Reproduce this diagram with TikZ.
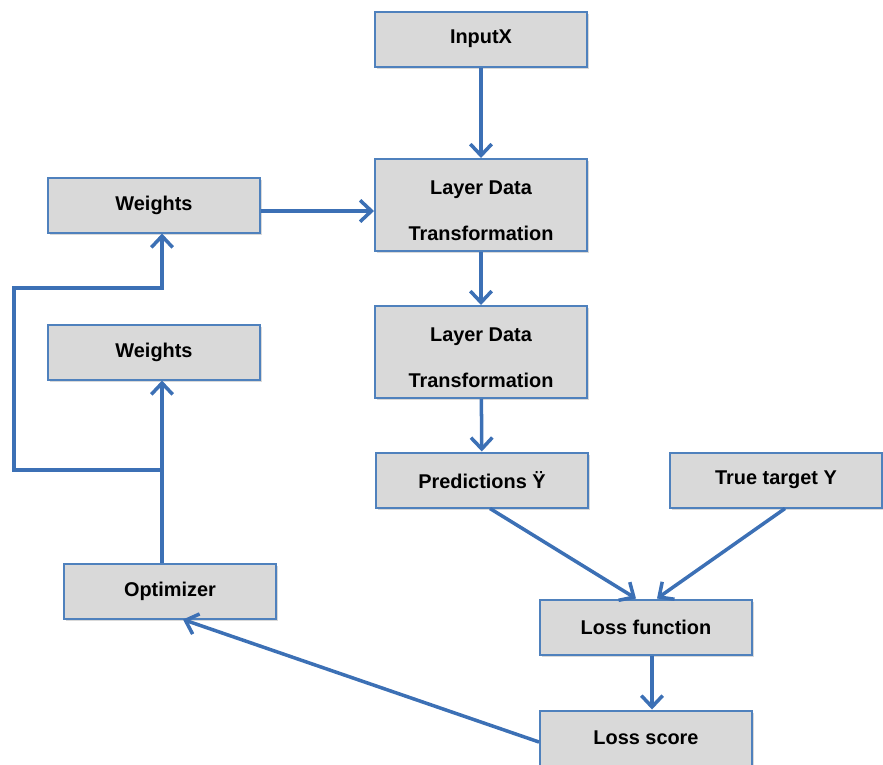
\documentclass[tikz,border=0pt]{standalone}
\usepackage{fontspec}
\setmainfont{Liberation Sans}
\usepackage{tikz}
\usetikzlibrary{arrows.meta,shadows}

\definecolor{boxfill}{HTML}{D9D9D9}
\definecolor{boxline}{HTML}{4F81BD}
\definecolor{flowline}{HTML}{3C70B5}

\tikzset{
  block/.style={draw=boxline, line width=1.7pt, fill=boxfill, minimum width=63.6mm, minimum height=16.5mm,
    inner sep=0pt, font=\fontsize{17}{20}\selectfont\bfseries, align=center,
    drop shadow={shadow xshift=0.6mm, shadow yshift=-0.6mm, opacity=0.3, fill=gray}},
  tallblock/.style={block, minimum height=27.6mm},
  flow/.style={draw=flowline, line width=3pt, -{Straight Barb[length=3.4mm,width=6.4mm,line width=3pt]}}
}
\newcommand{\twoline}[2]{\rule{0pt}{22pt}#1\\[19pt]#2}

\begin{document}
\begin{tikzpicture}[x=0.3mm, y=-0.3mm]

	\useasboundingbox (0,0) rectangle (883,764);

	\node[block] (input) at (481,39) {InputX};
	\node[tallblock] (layerA) at (481,205) {\twoline{Layer Data}{Transformation}};
	\node[tallblock] (layerB) at (481,352) {\twoline{Layer Data}{Transformation}};
	\node[block] (weightsA) at (154,205) {Weights};
	\node[block] (weightsB) at (154,352) {Weights};
	\node[block] (pred) at (482,480) {Predictions Ÿ};
	\node[block] (target) at (776,480) {True target Y};
	\node[block] (optim) at (170,591) {Optimizer};
	\node[block] (lossfn) at (646,627) {Loss function};
	\node[block] (lossscore) at (646,738) {Loss score};

	% feedback loop around the weights
	\coordinate (tap) at (162,470);
	\coordinate (bendL) at (14,470);
	\coordinate (bendT) at (14,288);
	\coordinate (bendR) at (162,288);

	\draw[flow] (input) -- (layerA);
	\draw[flow] (layerA) -- (layerB);
	\draw[flow] (layerB) -- (pred);
	\draw[flow] ([yshift=-1.8mm]weightsA.east) -- ([yshift=-1.8mm]layerA.west);
	\draw[flow] ([xshift=2.4mm]pred.south) -- ([xshift=-3mm]lossfn.north);
	\draw[flow] ([xshift=2.7mm]target.south) -- ([xshift=3.3mm]lossfn.north);
	\draw[flow] ([xshift=1.8mm]lossfn.south) -- ([xshift=1.8mm]lossscore.north);
	\draw[flow] ([yshift=-1.2mm]lossscore.west) -- ([xshift=3.9mm]optim.south);
	\draw[flow] (optim.north -| tap) -- (weightsB.south -| tap);
	\draw[flow] (tap) -- (bendL) -- (bendT) -- (bendR) -- (weightsA.south -| bendR);

\end{tikzpicture}
\end{document}
